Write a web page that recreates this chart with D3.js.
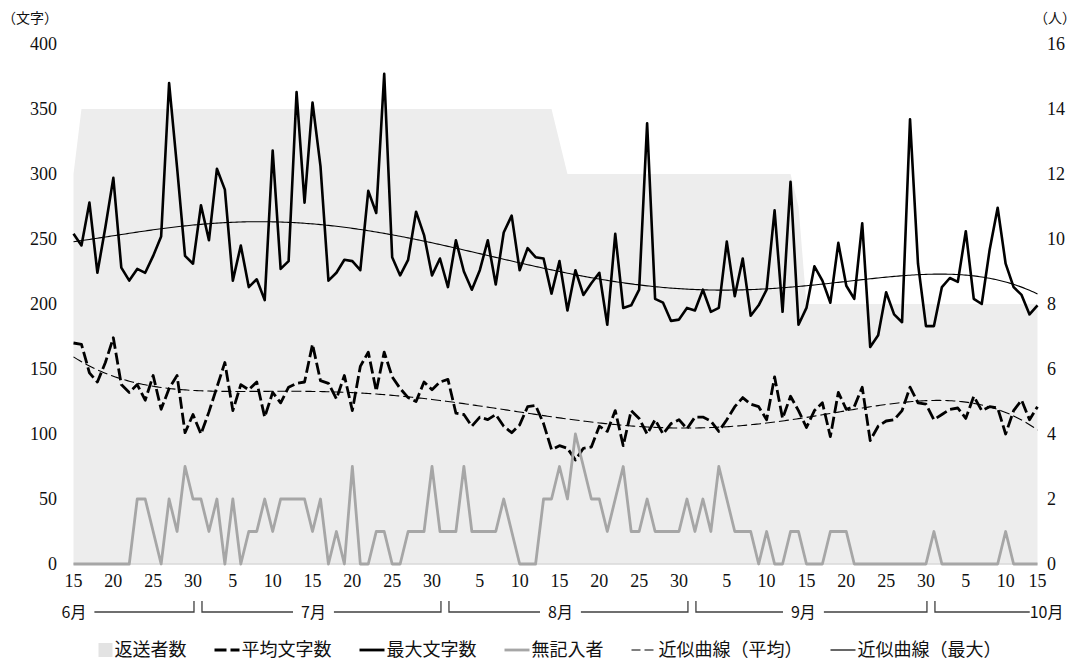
<!DOCTYPE html>
<html>
<head>
<meta charset="utf-8">
<script src="https://cdn.jsdelivr.net/npm/d3@7/dist/d3.min.js"></script>
<style>
body { margin: 0; background: #fff; }
</style>
</head>
<body>
<div class="canva"></div>
<script>
// 日別データ 6/15 - 10/14
const maxChars = [254,245,278,224,259,297,228,218,227,224,237,252,370,305,237,231,276,249,304,288,
  218,245,213,219,203,318,227,233,363,278,355,306,218,224,234,233,226,287,270,377,
  236,222,234,271,253,222,235,213,249,225,211,226,249,215,255,268,226,243,236,235,
  208,233,195,226,207,216,224,184,254,197,199,211,339,204,201,187,188,197,195,211,
  194,197,248,206,235,191,199,211,272,194,294,184,197,229,218,201,247,214,204,262,
  167,176,209,192,186,342,231,183,183,213,220,217,256,204,200,242,274,231,213,207,
  192,199];
const avgChars = [170,169,147,140,155,174,138,132,138,126,145,119,135,145,101,115,100,117,136,155,
  118,138,134,140,113,132,124,136,139,140,169,141,139,127,145,118,152,163,133,163,
  144,135,128,125,140,134,140,142,116,115,106,113,111,115,106,101,107,121,122,108,
  88,91,89,80,89,90,106,102,118,91,118,112,100,111,100,108,111,104,113,113,
  110,102,111,121,128,123,121,111,144,112,129,118,105,118,124,98,132,119,121,136,
  95,106,110,111,118,136,124,123,111,115,119,120,112,129,118,121,120,100,118,126,
  111,121];
const blankCount = [0,0,0,0,0,0,0,0,2,2,1,0,2,1,3,2,2,1,2,0,
  2,0,1,1,2,1,2,2,2,2,1,2,0,1,0,3,0,0,1,1,
  0,0,1,1,1,3,1,1,1,3,1,1,1,1,2,1,0,0,0,2,
  2,3,2,4,3,2,2,1,2,3,1,1,2,1,1,1,1,2,1,2,
  1,3,2,1,1,1,0,1,0,0,1,1,0,0,0,1,1,1,0,0,
  0,0,0,0,0,0,0,0,1,0,0,0,0,0,0,0,0,1,0,0,
  0,0];
const returned = [12,14,14,14,14,14,14,14,14,14,14,14,14,14,14,14,14,14,14,14,
  14,14,14,14,14,14,14,14,14,14,14,14,14,14,14,14,14,14,14,14,
  14,14,14,14,14,14,14,14,14,14,14,14,14,14,14,14,14,14,14,14,
  14,13,12,12,12,12,12,12,12,12,12,12,12,12,12,12,12,12,12,12,
  12,12,12,12,12,12,12,12,12,12,12,11,8,8,8,8,8,8,8,8,
  8,8,8,8,8,8,8,8,8,8,8,8,8,8,8,8,8,8,8,8,
  8,8];

const tickIdx = [0,5,10,15,20,25,30,35,40,45,51,56,61,66,71,76,82,87,92,97,102,107,112,117,121];
const tickLbl = ["15","20","25","30","5","10","15","20","25","30","5","10","15","20","25","30","5","10","15","20","25","30","5","10","15"];
const months = ["6月","7月","8月","9月","10月"];
const monthStart = [0,16,47,78,108];
const monthEnd = [15,46,77,107,121];
const leftTicks = [0,50,100,150,200,250,300,350,400];
const rightTicks = [0,2,4,6,8,10,12,14,16];

const canvas = d3.select(".canva");
const svg = canvas.append("svg")
    .attr("width", 1076)
    .attr("height", 665);

const numFont = "'Liberation Serif', 'DejaVu Serif', serif";
const jpFont = "'Noto Sans CJK JP', sans-serif";

const x = d3.scaleLinear().domain([0, maxChars.length - 1]).range([73.5, 1037.5]);
const yL = d3.scaleLinear().domain([0, 400]).range([564, 44]);
const yR = d3.scaleLinear().domain([0, 16]).range([564, 44]);

// 近似曲線 (多項式)
function polyFit(ys, deg) {
    const n = ys.length, h = (n - 1) / 2, m = deg + 1;
    const A = d3.range(m).map(() => new Array(m + 1).fill(0));
    ys.forEach((yv, k) => {
        const t = (k - h) / h;
        const p = d3.range(m).map(j => Math.pow(t, j));
        for (let r = 0; r < m; r++) {
            for (let c = 0; c < m; c++) A[r][c] += p[r] * p[c];
            A[r][m] += p[r] * yv;
        }
    });
    for (let c = 0; c < m; c++) {
        let piv = c;
        for (let r = c + 1; r < m; r++) if (Math.abs(A[r][c]) > Math.abs(A[piv][c])) piv = r;
        const tmp = A[c]; A[c] = A[piv]; A[piv] = tmp;
        for (let r = 0; r < m; r++) if (r !== c) {
            const f = A[r][c] / A[c][c];
            for (let k = c; k <= m; k++) A[r][k] -= f * A[c][k];
        }
    }
    const coef = A.map((row, i) => row[m] / row[i]);
    return i => { const t = (i - h) / h; return coef.reduce((s, a, j) => s + a * Math.pow(t, j), 0); };
}
const fitMax = polyFit(maxChars, 5);
const fitAvg = polyFit(avgChars, 5);
const fine = d3.range(0, maxChars.length - 1 + 0.001, 0.25);

// 返送者数 (面)
const area = d3.area()
    .x((d, i) => x(i))
    .y0(yR(0))
    .y1(d => yR(d));
svg.append("path")
    .datum(returned)
    .attr("d", area)
    .style("fill", "#ededed");

// 横軸線
svg.append("line")
    .attr("x1", x(0)).attr("x2", x(maxChars.length - 1))
    .attr("y1", yL(0)).attr("y2", yL(0))
    .style("stroke", "#d9d9d9").style("stroke-width", 1.5);

const lineL = d3.line().x((d, i) => x(i)).y(d => yL(d));
const lineR = d3.line().x((d, i) => x(i)).y(d => yR(d));

svg.append("path").datum(avgChars)
    .attr("d", lineL)
    .style("fill", "none").style("stroke", "#000").style("stroke-width", 2.8)
    .style("stroke-dasharray", "12,4").style("stroke-linejoin", "round");

svg.append("path").datum(maxChars)
    .attr("d", lineL)
    .style("fill", "none").style("stroke", "#000").style("stroke-width", 2.6)
    .style("stroke-linejoin", "round");

svg.append("path").datum(blankCount)
    .attr("d", lineR)
    .style("fill", "none").style("stroke", "#a6a6a6").style("stroke-width", 2.8)
    .style("stroke-linejoin", "round");

const trendLine = f => d3.line().x(t => x(t)).y(t => yL(f(t)));
svg.append("path").datum(fine)
    .attr("d", trendLine(fitAvg))
    .style("fill", "none").style("stroke", "#000").style("stroke-width", 1.1)
    .style("stroke-dasharray", "10,4");
svg.append("path").datum(fine)
    .attr("d", trendLine(fitMax))
    .style("fill", "none").style("stroke", "#000").style("stroke-width", 1.1);

// 軸ラベル
svg.selectAll(".lt").data(leftTicks).enter().append("text")
    .attr("x", 57).attr("y", d => yL(d)).attr("dy", "0.35em")
    .attr("text-anchor", "end")
    .style("font-family", numFont).style("font-size", "18px").style("fill", "#111")
    .text(d => d);
svg.selectAll(".rt").data(rightTicks).enter().append("text")
    .attr("x", 1047).attr("y", d => yR(d)).attr("dy", "0.35em")
    .style("font-family", numFont).style("font-size", "18px").style("fill", "#111")
    .text(d => d);
svg.append("text").attr("x", 2).attr("y", 18).attr("dy", "0.35em")
    .style("font-family", jpFont).style("font-size", "14px").style("fill", "#111")
    .text("（文字）");
svg.append("text").attr("x", 1076).attr("y", 18).attr("dy", "0.35em")
    .attr("text-anchor", "end")
    .style("font-family", jpFont).style("font-size", "14px").style("fill", "#111")
    .text("（人）");

svg.selectAll(".xt").data(tickIdx).enter().append("text")
    .attr("x", d => x(d)).attr("y", 581).attr("dy", "0.35em")
    .attr("text-anchor", "middle")
    .style("font-family", numFont).style("font-size", "18px").style("fill", "#111")
    .text((d, i) => tickLbl[i]);

// 月の区切り
const yM = 612;
const g = svg.append("g").style("stroke", "#404040").style("stroke-width", 1.3).style("fill", "none");
months.forEach((m, k) => {
    const left = k === 0 ? null : (x(monthEnd[k - 1]) + x(monthStart[k])) / 2 + 5;
    const right = k === months.length - 1 ? null : (x(monthEnd[k]) + x(monthStart[k + 1])) / 2 - 3;
    const t = svg.append("text").attr("y", yM).attr("dy", "0.35em")
        .style("font-family", jpFont).style("font-size", "16px").style("fill", "#111")
        .text(m);
    let lx;
    if (left === null) { lx = x(monthStart[k]) - 12; }
    else if (right === null) { lx = x(monthEnd[k]) + 26 - t.node().getComputedTextLength(); }
    else { lx = (left + right) / 2 - 8 - t.node().getComputedTextLength() / 2; }
    t.attr("x", lx);
    const tw = t.node().getComputedTextLength();
    if (left !== null) {
        g.append("path").attr("d", `M${left},${yM - 11}V${yM}H${lx - (right === null ? 0 : 8)}`);
    }
    if (right !== null) {
        g.append("path").attr("d", `M${lx + tw + 8},${yM}H${right}V${yM - 11}`);
    }
});

// 凡例
const legendItems = [
    { name: "返送者数", type: "box" },
    { name: "平均文字数", color: "#000", w: 2.8, dash: "12,4" },
    { name: "最大文字数", color: "#000", w: 2.8, dash: null },
    { name: "無記入者", color: "#a6a6a6", w: 2.8, dash: null },
    { name: "近似曲線（平均）", color: "#000", w: 1.2, dash: "9,4" },
    { name: "近似曲線（最大）", color: "#000", w: 1.2, dash: null }
];
const lg = svg.append("g");
let cx = 0;
const ly = 650;
legendItems.forEach(d => {
    if (d.type === "box") {
        lg.append("rect").attr("x", cx).attr("y", ly - 7).attr("width", 14).attr("height", 14)
            .style("fill", "#e3e3e3");
        cx += 16;
    } else {
        lg.append("line").attr("x1", cx).attr("x2", cx + 25).attr("y1", ly).attr("y2", ly)
            .style("stroke", d.color).style("stroke-width", d.w)
            .style("stroke-dasharray", d.dash);
        cx += 27;
    }
    const t = lg.append("text").attr("x", cx).attr("y", ly).attr("dy", "0.35em")
        .style("font-family", jpFont).style("font-size", "18px").style("fill", "#111")
        .text(d.name);
    cx += t.node().getComputedTextLength() + 28;
});
cx -= 28;
lg.attr("transform", "translate(" + (550 - cx / 2) + ",0)");
</script>
</body>
</html>
